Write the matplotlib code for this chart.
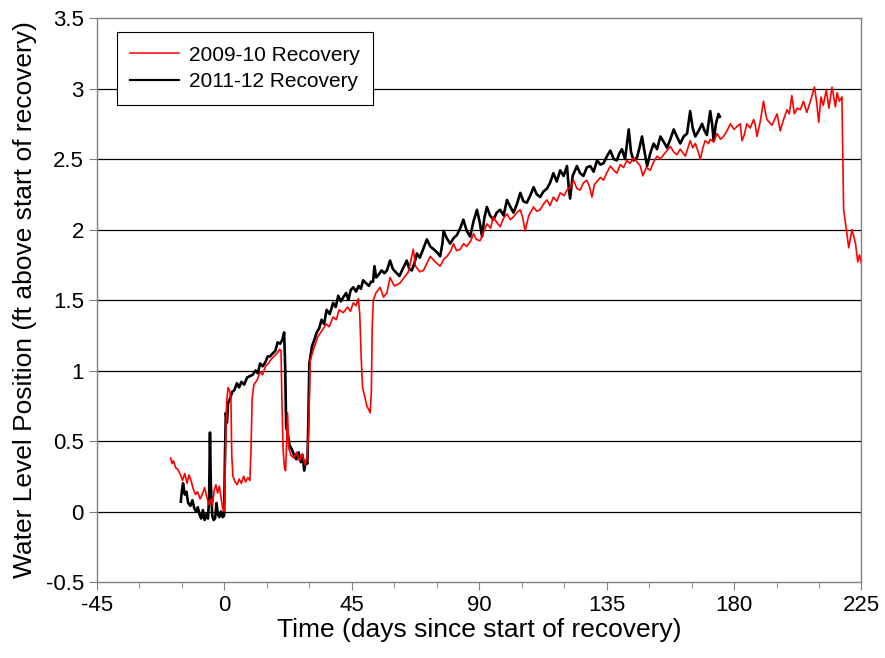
import numpy as np
import matplotlib
matplotlib.use("Agg")
import matplotlib.pyplot as plt
from matplotlib.ticker import MultipleLocator

#2009-10 recovery, days since start vs water level (ft)
days0910 = [-19.0, -18.5, -18.0, -17.2, -16.5, -15.5, -14.8, -14.0, -13.2, -12.5, -11.8, -11.0, -10.2, -9.5,
            -8.6, -7.8, -7.0, -6.2, -5.5, -4.8, -4.2, -3.6, -3.0, -2.4, -1.8, -1.2, -0.6, 0.0, 0.4, 0.8,
            1.3, 1.8, 2.3, 2.6, 3.0, 3.8, 4.5, 5.2, 6.0, 6.8, 7.5, 8.3, 9.0, 9.4, 9.8, 10.4, 11.5, 12.6,
            13.5, 14.5, 15.5, 16.5, 17.5, 18.5, 19.5, 20.0, 20.3, 20.7, 21.2, 21.6, 22.0, 22.3, 22.7, 23.5,
            24.5, 25.5, 26.5, 27.5, 28.5, 29.3, 29.8, 30.3, 31.0, 32.0, 33.0, 34.0, 35.0, 36.0, 37.0, 38.4,
            39.5, 40.5, 42.0, 43.5, 44.5, 45.5, 46.5, 47.3, 47.8, 48.3, 48.8, 49.5, 50.3, 51.0, 51.5, 51.9,
            52.2, 52.6, 53.5, 55.0, 56.2, 57.4, 58.5, 60.0, 62.0, 63.5, 65.0, 66.7, 67.5, 69.0, 70.3, 71.5,
            72.7, 74.5, 76.2, 77.5, 78.6, 80.0, 80.9, 82.0, 83.3, 84.5, 85.6, 87.0, 88.0, 89.0, 90.3, 91.5,
            92.7, 94.0, 95.0, 96.2, 97.4, 98.6, 99.8, 101.0, 102.1, 103.3, 104.5, 105.4, 106.2, 107.5, 109.2,
            110.3, 111.5, 112.7, 113.9, 115.0, 116.2, 117.4, 118.6, 120.0, 121.0, 122.2, 123.3, 124.5, 125.6,
            126.8, 128.0, 129.0, 129.8, 130.7, 131.6, 132.8, 133.9, 135.0, 136.3, 137.5, 138.6, 139.8, 141.0,
            142.1, 143.3, 144.5, 145.7, 146.9, 147.8, 149.0, 150.4, 151.6, 152.8, 154.0, 155.1, 156.3, 157.5,
            158.7, 159.8, 161.0, 162.8, 164.5, 165.4, 166.3, 167.2, 168.1, 169.0, 169.8, 171.0, 171.6, 172.8,
            174.0, 175.2, 176.3, 177.5, 178.7, 180.0, 181.0, 182.2, 182.8, 183.6, 184.5, 185.7, 186.9, 187.5,
            188.1, 189.2, 190.4, 191.0, 191.6, 192.5, 193.4, 194.3, 195.2, 196.3, 197.5, 198.7, 199.5, 200.4,
            201.3, 202.3, 203.4, 204.5, 205.7, 206.8, 208.4, 209.2, 209.9, 210.7, 211.5, 212.6, 213.5, 214.6,
            215.8, 216.4, 217.2, 218.1, 218.4, 218.7, 219.6, 220.5, 221.2, 221.7, 222.3, 222.9, 223.7, 224.3,
            225.0]
level0910 = [0.38, 0.34, 0.36, 0.31, 0.30, 0.26, 0.22, 0.27, 0.20, 0.26, 0.22, 0.16, 0.12, 0.14,
             0.09, 0.12, 0.17, 0.10, 0.05, 0.09, 0.04, 0.15, 0.19, 0.13, 0.18, 0.10, 0.02, 0.00, 0.45, 0.78,
             0.88, 0.86, 0.80, 0.40, 0.25, 0.21, 0.19, 0.23, 0.20, 0.25, 0.21, 0.24, 0.22, 0.45, 0.80, 0.90, 0.93, 0.99,
             0.97, 1.03, 1.05, 1.08, 1.10, 1.12, 1.15, 1.14, 0.80, 0.45, 0.31, 0.29, 0.50, 0.70, 0.45, 0.40,
             0.38, 0.42, 0.36, 0.41, 0.33, 0.40, 0.60, 1.07, 1.12, 1.18, 1.24, 1.27, 1.30, 1.33, 1.31, 1.38,
             1.36, 1.43, 1.41, 1.45, 1.42, 1.48, 1.46, 1.51, 1.40, 1.10, 0.88, 0.82, 0.75, 0.72, 0.70, 0.85,
             1.30, 1.50, 1.55, 1.59, 1.52, 1.55, 1.66, 1.60, 1.62, 1.66, 1.70, 1.86, 1.74, 1.70, 1.71, 1.76,
             1.81, 1.77, 1.74, 1.79, 1.81, 1.85, 1.90, 1.85, 1.86, 1.90, 1.88, 1.92, 1.97, 1.93, 1.92, 1.98,
             2.04, 2.01, 2.09, 2.05, 2.02, 2.08, 2.11, 2.07, 2.09, 2.12, 2.14, 2.08, 1.99, 2.10, 2.16,
             2.13, 2.14, 2.18, 2.21, 2.17, 2.23, 2.20, 2.26, 2.24, 2.28, 2.30, 2.35, 2.29, 2.28,
             2.33, 2.35, 2.30, 2.23, 2.32, 2.34, 2.37, 2.35, 2.40, 2.45, 2.42, 2.40, 2.46, 2.44,
             2.49, 2.47, 2.51, 2.48, 2.45, 2.38, 2.44, 2.42, 2.48, 2.52, 2.50, 2.53, 2.56, 2.59,
             2.55, 2.53, 2.57, 2.52, 2.63, 2.58, 2.61, 2.56, 2.50, 2.58, 2.63, 2.61, 2.64, 2.62,
             2.68, 2.64, 2.66, 2.70, 2.75, 2.71, 2.73, 2.75, 2.63, 2.67, 2.75, 2.72, 2.78, 2.74,
             2.66, 2.76, 2.91, 2.84, 2.78, 2.76, 2.74, 2.78, 2.82, 2.70, 2.78, 2.85, 2.82, 2.95,
             2.82, 2.86, 2.85, 2.91, 2.83, 2.90, 3.01, 2.90, 2.76, 2.94, 2.88, 2.99, 2.86, 3.01,
             2.87, 2.97, 2.91, 2.94, 2.52, 2.14, 2.01, 1.87, 1.95, 2.00, 1.95, 1.90, 1.77, 1.82,
             1.76]

#2011-12 recovery
days1112 = [-15.4, -15.0, -14.6, -14.0, -13.4, -12.8, -12.0, -11.3, -10.6, -10.0, -9.4, -8.8, -8.2, -7.6,
            -7.0, -6.4, -5.8, -5.4, -5.1, -4.8, -4.3, -3.8, -3.3, -2.8, -2.3, -1.8, -1.2, -0.6, -0.1, 0.2,
            0.5, 0.9, 1.3, 2.0, 2.8, 3.5, 4.4, 5.2, 6.0, 7.0, 8.0, 9.0, 10.0, 11.0, 11.8, 12.6, 13.5, 14.5,
            15.3, 16.1, 17.0, 18.0, 18.8, 19.7, 20.5, 21.1, 21.5, 21.8, 22.3, 23.0, 23.8, 24.6, 25.4, 26.2,
            27.0, 27.6, 28.2, 28.8, 29.3, 29.6, 30.0, 30.9, 31.8, 32.6, 33.5, 34.3, 35.2, 36.1, 37.2, 38.4,
            39.3, 40.2, 41.1, 42.0, 43.0, 43.8, 44.6, 45.5, 46.5, 47.4, 48.2, 49.0, 50.0, 51.0, 51.8, 52.5,
            53.0, 53.6, 54.5, 55.5, 56.5, 57.4, 58.5, 59.5, 60.9, 61.8, 63.0, 64.4, 65.3, 66.2, 67.1, 68.0,
            69.0, 70.0, 71.5, 72.7, 73.9, 75.0, 76.2, 77.0, 77.4, 78.5, 79.7, 81.0, 82.1, 83.3, 84.4, 85.6,
            86.8, 88.0, 89.2, 90.2, 91.0, 91.8, 92.7, 93.8, 95.0, 96.2, 97.4, 98.6, 99.8, 101.0, 102.1, 103.3,
            104.5, 105.6, 106.8, 108.0, 109.2, 110.3, 111.5, 112.7, 113.9, 115.0, 116.2, 117.4, 118.6, 119.8,
            121.0, 121.6, 122.1, 123.0, 124.5, 125.6, 126.8, 128.0, 129.2, 130.4, 131.6, 132.8, 133.9, 135.1,
            136.3, 137.5, 138.6, 139.5, 140.4, 141.5, 142.8, 143.6, 144.5, 145.7, 146.6, 147.5, 148.4, 149.3,
            150.4, 151.6, 152.8, 154.0, 155.2, 156.3, 157.5, 158.7, 159.8, 161.0, 162.2, 163.4, 164.5, 165.4,
            166.3, 167.5, 168.7, 169.6, 170.4, 171.6, 172.3, 172.8, 173.6, 174.5, 175.0]
level1112 = [0.07, 0.15, 0.20, 0.12, 0.14, 0.06, 0.04, 0.08, 0.02, 0.00, 0.03, -0.02, -0.05, 0.01,
             -0.06, -0.02, -0.05, 0.10, 0.56, 0.20, -0.03, -0.06, -0.05, 0.06, -0.02, -0.04, 0.00, -0.04, -0.03, 0.40,
             0.70, 0.63, 0.77, 0.80, 0.85, 0.86, 0.91, 0.88, 0.92, 0.90, 0.95, 0.96, 0.97, 1.00, 0.98, 1.05, 1.03, 1.06,
             1.10, 1.10, 1.12, 1.14, 1.20, 1.19, 1.22, 1.27, 1.00, 0.60, 0.56, 0.47, 0.44, 0.40, 0.37, 0.42,
             0.35, 0.40, 0.29, 0.36, 0.34, 0.60, 1.05, 1.17, 1.22, 1.27, 1.30, 1.36, 1.33, 1.43, 1.40, 1.48,
             1.45, 1.53, 1.49, 1.52, 1.55, 1.50, 1.57, 1.59, 1.56, 1.60, 1.58, 1.64, 1.62, 1.60, 1.63, 1.63,
             1.74, 1.66, 1.68, 1.71, 1.69, 1.71, 1.78, 1.72, 1.69, 1.67, 1.72, 1.78, 1.72, 1.71, 1.76, 1.83,
             1.80, 1.85, 1.93, 1.88, 1.86, 1.84, 1.81, 1.90, 1.99, 1.94, 1.90, 1.94, 1.96, 2.01, 2.07, 1.99,
             1.95, 2.06, 2.14, 2.05, 1.95, 2.08, 2.16, 2.10, 2.07, 2.12, 2.14, 2.10, 2.21, 2.16, 2.12, 2.18,
             2.26, 2.20, 2.19, 2.24, 2.30, 2.25, 2.23, 2.27, 2.29, 2.33, 2.40, 2.34, 2.42, 2.38,
             2.45, 2.30, 2.22, 2.38, 2.45, 2.40, 2.38, 2.44, 2.45, 2.41, 2.49, 2.46, 2.47, 2.52,
             2.56, 2.50, 2.49, 2.54, 2.57, 2.50, 2.71, 2.55, 2.49, 2.51, 2.58, 2.66, 2.55, 2.45,
             2.54, 2.61, 2.57, 2.66, 2.62, 2.58, 2.64, 2.71, 2.66, 2.61, 2.66, 2.68, 2.84, 2.72,
             2.66, 2.70, 2.75, 2.70, 2.67, 2.84, 2.74, 2.63, 2.75, 2.82, 2.80]

plt.rcParams['font.family'] = ['Liberation Sans', 'DejaVu Sans']
plt.rcParams['axes.unicode_minus'] = False

fig = plt.figure(figsize=(8.85, 6.58), dpi=100)
ax = fig.add_axes([0.1096, 0.1155, 0.8638, 0.8571])

#horizontal grid lines
for g in [0, 0.5, 1, 1.5, 2, 2.5, 3]:
  ax.axhline(g, color='black', lw=0.9, zorder=1)

ax.plot(days0910, level0910, color='#ff0000', lw=1.2, label='2009-10 Recovery', zorder=3)
ax.plot(days1112, level1112, color='black', lw=1.9, label='2011-12 Recovery', zorder=2)

ax.set_xlim(-45, 225)
ax.set_ylim(-0.5, 3.5)
ax.xaxis.set_major_locator(MultipleLocator(45))
ax.xaxis.set_minor_locator(MultipleLocator(15))
ax.set_yticks(np.arange(-0.5, 3.51, 0.5))
ax.set_yticklabels(['-0.5', '0', '0.5', '1', '1.5', '2', '2.5', '3', '3.5'])

for s in ax.spines.values():
  s.set_color('#808080')
  s.set_linewidth(1.0)
ax.tick_params(axis='both', which='both', direction='out', color='#808080', labelsize=16)
ax.tick_params(axis='both', which='major', length=6)
ax.tick_params(axis='x', which='minor', length=4)

ax.set_xlabel('Time (days since start of recovery)', fontsize=19, labelpad=1)
ax.set_ylabel('Water Level Position (ft above start of recovery)', fontsize=19, labelpad=6)

leg = ax.legend(loc='upper left', bbox_to_anchor=(0.026, 0.975), borderaxespad=0, fontsize=15,
                handlelength=2.35, handletextpad=0.45, labelspacing=0.35, borderpad=0.65,
                fancybox=False, framealpha=1, edgecolor='black')
leg.get_frame().set_linewidth(0.8)
leg.get_lines()[0].set_linewidth(1.1)
leg.get_lines()[1].set_linewidth(1.6)

fig.savefig('out.png', dpi=100)
